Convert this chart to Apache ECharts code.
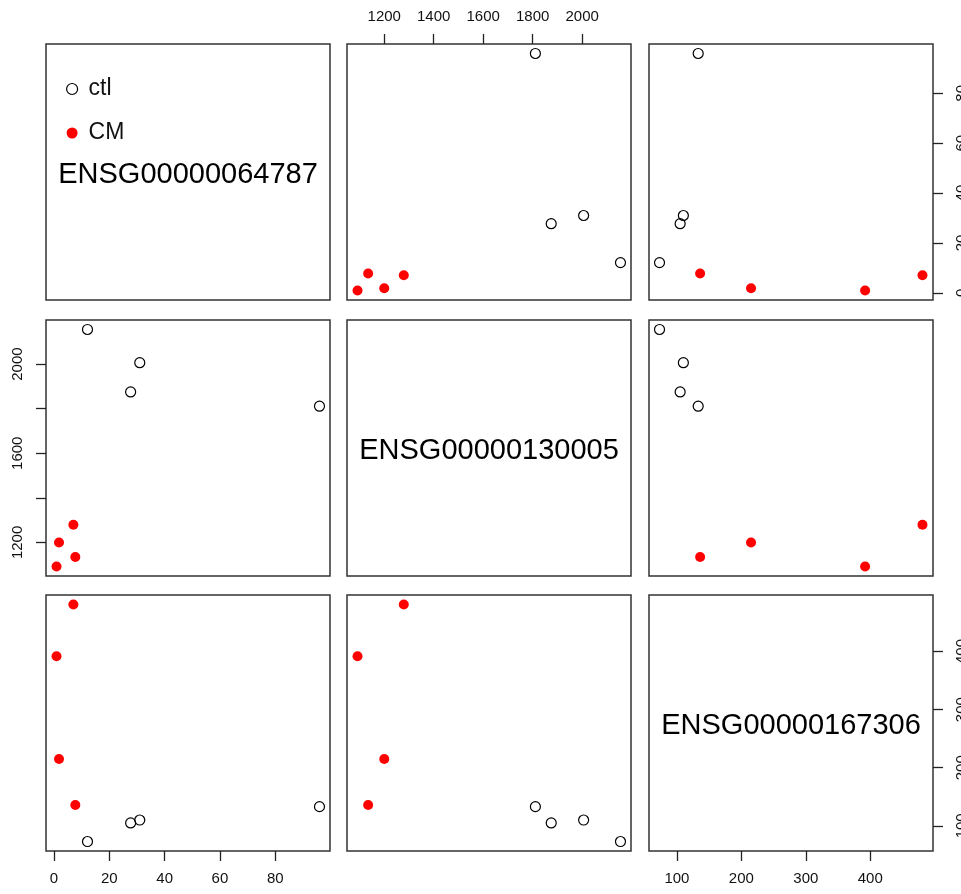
<!DOCTYPE html>
<html>
<head>
<meta charset="utf-8">
<script src="https://cdn.jsdelivr.net/npm/echarts@6/dist/echarts.min.js"></script>
<style>
html, body { margin: 0; padding: 0; background: #fff; }
#main { width: 961px; height: 894px; }
</style>
</head>
<body>
<div id="main"></div>
<script>
// pairs plot of 3 genes, 4 ctl + 4 CM samples
var genes = ['ENSG00000064787', 'ENSG00000130005', 'ENSG00000167306'];
var ctl064787 = [12.1, 27.7, 31.0, 96.0];
var ctl130005 = [2155, 1875, 2006, 1811];
var ctl167306 = [73, 105, 110, 133];
var cm064787 = [7.7, 7.0, 1.8, 0.9];
var cm130005 = [1135, 1279, 1200, 1092];
var cm167306 = [136, 481, 215, 392];
var ticks064787 = [0, 20, 40, 60, 80];
var ticks130005 = [1200, 1400, 1600, 1800, 2000];
var labels130005Left = [1200, 1600, 2000];
var ticks167306 = [100, 200, 300, 400];

var ctlVals = [ctl064787, ctl130005, ctl167306];
var cmVals = [cm064787, cm130005, cm167306];

// R style range: data range + 4% each side
var ranges = [0, 1, 2].map(function (g) {
    var all = ctlVals[g].concat(cmVals[g]);
    var lo = Math.min.apply(null, all), hi = Math.max.apply(null, all);
    var pad = (hi - lo) * 0.04;
    return [lo - pad, hi + pad];
});

var colLeft = [46, 347, 649];
var rowTop = [44, 320, 595];
var panelW = 284, panelH = 256;
var font = 'Liberation Sans, Arial, sans-serif';

function zip(xs, ys) {
    return xs.map(function (x, i) { return [x, ys[i]]; });
}

// which panel axes are drawn, as in R pairs()
var shown = {
    'x1': { pos: 'top', ticks: ticks130005, labels: ticks130005 },
    'y2': { pos: 'right', ticks: ticks064787, labels: ticks064787 },
    'y3': { pos: 'left', ticks: ticks130005, labels: labels130005Left },
    'x6': { pos: 'bottom', ticks: ticks064787, labels: ticks064787 },
    'x8': { pos: 'bottom', ticks: ticks167306, labels: ticks167306 },
    'y8': { pos: 'right', ticks: ticks167306, labels: ticks167306 }
};

function makeAxis(key, idx, g, isY) {
    var ax = {
        type: 'value',
        gridIndex: idx,
        min: ranges[g][0],
        max: ranges[g][1],
        splitLine: { show: false },
        axisLine: { show: false, onZero: false }
    };
    var s = shown[key];
    if (!s) {
        ax.show = false;
        return ax;
    }
    ax.position = s.pos;
    ax.axisTick = {
        show: true, inside: false, length: 10,
        customValues: s.ticks,
        lineStyle: { color: '#222', width: 1.3 }
    };
    ax.axisLabel = {
        show: true,
        customValues: s.labels,
        formatter: function (v) { return String(v); },
        fontFamily: font,
        fontSize: 15,
        color: '#111',
        margin: isY ? 21 : 20,
        rotate: isY ? 90 : 0
    };
    return ax;
}

var grids = [], xAxes = [], yAxes = [], series = [], graphics = [];
for (var r = 0; r < 3; r++) {
    for (var c = 0; c < 3; c++) {
        var idx = r * 3 + c;
        grids.push({
            left: colLeft[c], top: rowTop[r], width: panelW, height: panelH,
            show: true, borderColor: '#333', borderWidth: 1.5,
            backgroundColor: 'transparent',
            containLabel: false,
            outerBoundsMode: 'none'
        });
        xAxes.push(makeAxis('x' + idx, idx, c, false));
        yAxes.push(makeAxis('y' + idx, idx, r, true));
        if (r === c) {
            graphics.push({
                type: 'text',
                x: colLeft[c] + panelW / 2,
                y: rowTop[r] + panelH / 2 + 3,
                style: {
                    text: genes[r],
                    font: '29px ' + font,
                    fill: '#000',
                    textAlign: 'center',
                    textVerticalAlign: 'middle'
                }
            });
            continue;
        }
        series.push({
            name: 'ctl', type: 'scatter', xAxisIndex: idx, yAxisIndex: idx,
            symbol: 'circle', symbolSize: 10,
            itemStyle: { color: 'rgba(0,0,0,0)', borderColor: '#000', borderWidth: 1.2, opacity: 1 },
            data: zip(ctlVals[c], ctlVals[r])
        });
        series.push({
            name: 'CM', type: 'scatter', xAxisIndex: idx, yAxisIndex: idx,
            symbol: 'circle', symbolSize: 10,
            itemStyle: { color: '#ff0000', opacity: 1 },
            data: zip(cmVals[c], cmVals[r])
        });
    }
}

var chart = echarts.init(document.getElementById('main'));
chart.setOption({
    animation: false,
    backgroundColor: '#fff',
    grid: grids,
    xAxis: xAxes,
    yAxis: yAxes,
    legend: {
        orient: 'vertical',
        left: 61,
        top: 71,
        itemWidth: 11,
        itemHeight: 11,
        itemGap: 18,
        selectedMode: false,
        textStyle: { fontFamily: font, fontSize: 23, lineHeight: 26, color: '#111', padding: [0, 0, 0, 6] },
        data: [
            { name: 'ctl', icon: 'circle', itemStyle: { color: 'rgba(0,0,0,0)', borderColor: '#000', borderWidth: 1.2 } },
            { name: 'CM', icon: 'circle', itemStyle: { color: '#ff0000' } }
        ]
    },
    graphic: graphics,
    series: series
});
</script>
</body>
</html>
